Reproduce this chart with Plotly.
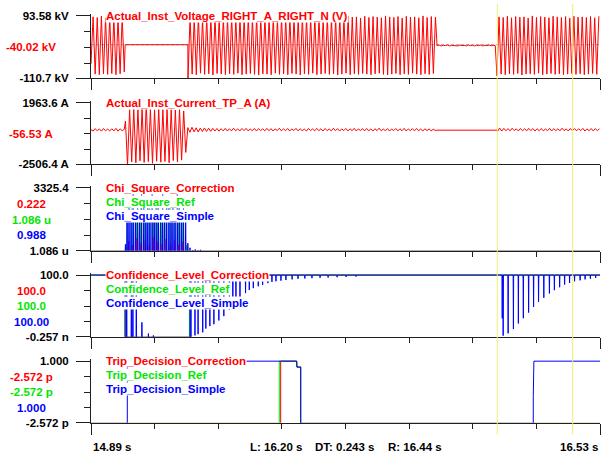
import numpy as np
import plotly.graph_objects as go

W, H = 602, 464
RED, GREEN, BLUE = "#FF0000", "#00E600", "#0000FF"
INK = "#000000"
AXIS = "#202020"
CURSOR_COLOR = "#EEEE77"
FONT = "Liberation Sans, Arial, sans-serif"
FS = 11.5

# ---- time axis -------------------------------------------------------------
T_START, T_END = 14.89, 16.53
N_DIV = 8
CURSOR_L, CURSOR_R = 16.199, 16.442
TIME_LABELS = ["14.89 s", "16.53 s"]
CURSOR_TEXT = ["L: 16.20 s", "DT: 0.243 s", "R: 16.44 s"]

# ---- per-panel scales and labels ------------------------------------------
PANEL_MIN = [-110.7, -2506.4, 1.086e-6, -0.257e-9, -2.572e-12]
PANEL_MAX = [93.58, 1963.6, 3325.4, 100.0, 1.000]
MAX_TEXT = ["93.58 kV", "1963.6 A", "3325.4", "100.0", "1.000"]
MIN_TEXT = ["-110.7 kV", "-2506.4 A", "1.086 u", "-0.257 n", "-2.572 p"]

SERIES_NAMES = [
    ["Actual_Inst_Voltage_RIGHT_A_RIGHT_N (V)"],
    ["Actual_Inst_Current_TP_A (A)"],
    ["Chi_Square_Correction", "Chi_Square_Ref", "Chi_Square_Simple"],
    ["Confidence_Level_Correction", "Confidence_Level_Ref", "Confidence_Level_Simple"],
    ["Trip_Decision_Correction", "Trip_Decision_Ref", "Trip_Decision_Simple"],
]
CURSOR_VALUES = [
    ["-40.02 kV"],
    ["-56.53 A"],
    ["0.222", "1.086 u", "0.988"],
    ["100.0", "100.0", "100.00"],
    ["-2.572 p", "-2.572 p", "1.000"],
]

# ---- sampled waveforms: successive extremes, EXT_STEP seconds apart --------
EXT_STEP = 0.0067

# voltage, kV
VOLT_T0 = [14.890, 15.2025, 16.005, 16.198]
VOLT_A = [-62, 90, -95, 88, -97, 92, -94, 87, -96, 91, -93, 89, -97, 86, -94, 90, -88]
VOLT_B = [
    -110.7, 91, -95, 88, -97, 93, -92, 86, -96, 90, -94, 89, -98, 92, -93, 87, -95, 91, -97, 88,
    -94, 93.58, -96, 86, -92, 90, -97, 89, -95, 92, -93, 88, -96, 91, -98, 87, -94, 93, -95, 89,
    -97, 90, -92, 86, -96, 92, -94, 88, -97, 91, -93, 89, -95, 87, -98, 93, -94, 90, -96, 88,
    -92, 91, -97, 89, -95, 86, -93, 92, -96, 90, -94, 88, -98, 91, -95, 87, -92, 93, -97, 89,
    -94, 90, -96, 86, -93, 92, -95, 88, -97, 91, -94, 89, -92, 87, -96, 93, -98, 90, -95, 88,
    -93, 91, -97, 86, -94, 92, -96, 89, -92, 90, -95, 87, -97, 93, -94, 88, -96, 91, -93, 89,
]
VOLT_C = [-3, -1, -4, -2, -3, -1, -4, -2, -3, -2, -4, -1, -3, -2, -4, -1, -3, -2, -4, -2,
          -3, -1, -4, -2, -3, -1, -3, -2, -3]
VOLT_D = [
    -101, 90, -95, 88, -97, 92, -94, 87, -96, 91, -93, 89, -98, 90, -95, 86, -94, 93, -96, 88,
    -92, 91, -97, 89, -95, 87, -93, 92, -96, 90, -94, 88, -97, 91, -95, 86, -93, 92, -96, 89,
    -94, 90, -97, 88, -95, 91, -93, 87, -96, 92,
]
VOLT_ZERO = [(15.000, 15.202)]

# current, A
CURR_T0 = [14.890, 15.001, 15.202, 16.200]
CURR_A = [30, -60, 110, -50, 90, -70, 120, -40, 80, -60, 100, -50, 130, -70, 90, -40, 60]
CURR_FAULT = [650, -2506.4, 1480, -2280, 1520, -2350, 1460, -2200, 1540, -2320,
              1963.6, -2260, 1500, -2380, 1470, -2230, 1530, -2300, 1490, -2250,
              1510, -2340, 1480, -2180, 1450, -2290, 1500, -2150, 1380, -1600]
CURR_B = [
    180, -150, 210, -120, 170, -130, 150, -100, 160, -90, 140, -80, 130, -60, 120, -70, 110, -50, 130, -60,
    100, -50, 140, -40, 90, -60, 120, -30, 130, -50, 80, -40, 120, -60, 110, -30, 90, -50, 130, -40,
    110, -60, 90, -30, 140, -50, 100, -40, 120, -60, 90, -30, 130, -50, 100, -40, 80, -60, 120, -30,
    90, -50, 130, -40, 100, -60, 120, -30, 80, -50, 140, -40, 110, -60, 90, -30, 120, -50, 100, -40,
    130, -60, 90, -30, 110, -50, 120, -40, 90, -60, 100, -30, 140, -50, 80, -40, 110, -60, 90, -30,
    120, -50, 100, -40, 130, -60, 90, -30, 110, -50, 120, -40, 80, -60, 100, -30, 90, -50, 70, -20,
]
CURR_C = [
    -80, 150, -60, 130, -40, 110, -50, 140, -30, 100, -60, 120, -40, 90, -50, 130, -30, 110, -60, 100,
    -40, 120, -50, 90, -30, 130, -60, 110, -40, 100, -50, 140, -30, 90, -60, 120, -40, 110, -50, 100,
    -30, 130, -60, 90, -40, 120, -50, 110, -30, 100,
]
CURR_ZERO = [(16.005, 16.198)]

# ---- chi-square bursts ------------------------------------------------------
CHI_SIMPLE_T = [15.001, 15.006, 15.0125, 15.019, 15.026, 15.033, 15.040, 15.046, 15.053, 15.060,
                15.067, 15.073, 15.080, 15.087, 15.094, 15.100, 15.107, 15.114, 15.121, 15.127,
                15.134, 15.141, 15.148, 15.154, 15.161, 15.168, 15.175, 15.181, 15.188, 15.195,
                15.202, 15.209, 15.218, 15.226, 15.235, 15.243]
CHI_SIMPLE_V = [360, 1700, 2900, 1900, 3325.4, 2100, 2600, 1800, 3100, 2400,
                1950, 2800, 2200, 3000, 1750, 2500, 2700, 2050, 3200, 1850,
                2450, 2900, 2000, 2650, 1900, 3050, 2300, 1700, 2600, 1600,
                420, 180, 60, 90, 40, 70]
CHI_REF_T = [15.002, 15.008, 15.022, 15.036, 15.050, 15.064, 15.078, 15.091,
             15.105, 15.118, 15.132, 15.145, 15.159, 15.172, 15.186, 15.198]
CHI_REF_V = [250, 1500, 2300, 1700, 2700, 1600, 2500, 1900,
             2850, 1700, 2200, 2600, 1800, 2400, 1750, 300]
CHI_CORR_T = [15.011, 15.024, 15.038, 15.051, 15.065, 15.078, 15.092,
              15.105, 15.119, 15.132, 15.146, 15.159, 15.173, 15.186]
CHI_CORR_V = [520, 300, 680, 410, 560, 350, 720, 460, 380, 640, 430, 590, 330, 480]

# ---- confidence level ---------------------------------------------------------
CONF_LEVEL_T = [14.890, 15.000, 15.000, 15.209, 15.209, 16.530]
CONF_LEVEL_V = [100, 100, 0, 0, 100, 100]
CONF_REF_LEVEL_T = [14.890, 15.000, 15.000, 15.207, 15.207, 16.530]
CONF_SIMPLE_T = [15.005, 15.020, 15.025, 15.036, 15.054, 15.075, 15.091,
                 15.212, 15.225, 15.235, 15.250, 15.260, 15.273, 15.286, 15.302, 15.318, 15.336,
                 15.347, 15.357, 15.370, 15.388, 15.400, 15.413, 15.429, 15.443, 15.460, 15.473,
                 15.486, 15.502, 15.518, 15.538, 15.557, 15.579, 15.602, 15.628, 15.654, 15.683,
                 15.712, 15.744,
                 16.215, 16.218, 16.234, 16.251, 16.267, 16.283, 16.300, 16.316, 16.332, 16.349,
                 16.367, 16.383, 16.400, 16.416, 16.432, 16.448, 16.466, 16.482, 16.499, 16.516]
CONF_SIMPLE_V = [100, 100, 100, 100, 24, 6, 3,
                 0, 3, 5, 8, 14, 18, 21, 27, 34, 44,
                 52, 58, 63, 71, 76, 79, 82, 84, 87, 89,
                 90, 91, 92, 93, 94, 94.5, 95, 95.5, 96, 96.5,
                 97, 97.5,
                 30.6, 2.6, 6.3, 13.2, 22.2, 30.6, 39.7, 48.7, 57.1, 63.5,
                 70.4, 75.7, 80.4, 84.7, 87.3, 90.0, 91.5, 93.0, 94.1, 95.2]
CONF_REF_T = [16.283, 16.332, 16.383]
CONF_REF_V = [95, 96, 97]

# ---- trip decisions (step traces) -------------------------------------------
TRIP_SIMPLE_T = [14.890, 15.007, 15.007, 15.5527, 15.5535, 15.5656, 15.5656, 16.315, 16.315, 16.317, 16.530]
TRIP_SIMPLE_V = [0, 0, 1, 1, 0.905, 0.905, 0, 0, 0.43, 1, 1]
TRIP_REF_T = [14.890, 15.4966, 15.4966, 15.5527, 15.5535, 15.5656, 15.5656, 16.530]
TRIP_REF_V = [0, 0, 1, 1, 0.905, 0.905, 0, 0]
TRIP_CORR_T = [14.890, 15.5011, 15.5011, 15.5527, 15.5535, 15.5656, 15.5656, 16.530]
TRIP_CORR_V = [0, 0, 1, 1, 0.905, 0.905, 0, 0]

# ---- page geometry (pixels) -------------------------------------------------
AXIS_X, RIGHT_X = 91, 600
PANEL_TOP = [12, 101, 188, 277, 365]
PANEL_BOTTOM = [76, 164, 252, 340, 428]
NAME_X, NAME_STEP = 105, 14.2
VALUE_X = 31
TOP_PAD = 2       # headroom above the top tick
FLOOR_SINK = 0.6  # keeps traces sitting on the floor underneath the axis line


def pxx(p):
    return p / W


def pxy(p):
    return 1 - p / H


def waveform(starts, pieces, flats):
    t, v = [], []
    for t0, vals in zip(starts, pieces):
        t.extend(t0 + EXT_STEP * np.arange(len(vals)))
        v.extend(vals)
    for a, b in flats:
        t.extend([a, b])
        v.extend([0.0, 0.0])
    t = np.asarray(t, float)
    v = np.asarray(v, float)
    k = np.argsort(t, kind="stable")
    return t[k], v[k]


def spiky(level_t, level_v, spike_t, spike_v, half):
    """Step level polyline with a narrow excursion at every spike time."""
    level_t = np.asarray(level_t, float)
    level_v = np.asarray(level_v, float)
    t, v = list(level_t), list(level_v)
    for ts, vs in zip(spike_t, spike_v):
        lv = level_v[np.searchsorted(level_t, ts, side="right") - 1]
        t += [ts - half, ts, ts + half]
        v += [lv, vs, lv]
    t = np.asarray(t)
    v = np.asarray(v, float)
    k = np.argsort(t, kind="stable")
    return t[k], v[k]


fig = go.Figure()


def add(panel, t, v, color, width=1.0):
    sfx = "" if panel == 1 else str(panel)
    fig.add_trace(go.Scatter(x=t, y=v, mode="lines", xaxis="x" + sfx, yaxis="y" + sfx,
                             line=dict(color=color, width=width), hoverinfo="skip"))


vt, vv = waveform(VOLT_T0, [VOLT_A, VOLT_B, VOLT_C, VOLT_D], VOLT_ZERO)
add(1, vt, vv, RED)
ct, cv = waveform(CURR_T0, [CURR_A, CURR_FAULT, CURR_B, CURR_C], CURR_ZERO)
add(2, ct, cv, RED)

flat_t, flat_v = [T_START, T_END], [0, 0]
add(3, *spiky(flat_t, flat_v, CHI_REF_T, CHI_REF_V, 0.0010), GREEN)
add(3, *spiky(flat_t, flat_v, CHI_CORR_T, CHI_CORR_V, 0.0010), RED)
add(3, *spiky(flat_t, flat_v, CHI_SIMPLE_T, CHI_SIMPLE_V, 0.0010), BLUE)

add(4, CONF_LEVEL_T, CONF_LEVEL_V, RED)
add(4, *spiky(CONF_REF_LEVEL_T, CONF_LEVEL_V, CONF_REF_T, CONF_REF_V, 0.0008), GREEN)
add(4, *spiky(CONF_LEVEL_T, CONF_LEVEL_V, CONF_SIMPLE_T, CONF_SIMPLE_V, 0.0008), BLUE)

add(5, TRIP_CORR_T, TRIP_CORR_V, RED)
add(5, TRIP_REF_T, TRIP_REF_V, GREEN)
add(5, TRIP_SIMPLE_T, TRIP_SIMPLE_V, BLUE)

div_ticks = [T_START + (T_END - T_START) * k / N_DIV for k in range(1, N_DIV)]
bold = dict(family=FONT, size=FS, color=INK, weight="bold")

layout = dict(width=W, height=H, margin=dict(l=0, r=0, t=0, b=0), autosize=False,
              showlegend=False, paper_bgcolor="white", plot_bgcolor="white")
annotations, shapes = [], []

for i in range(5):
    sfx = "" if i == 0 else str(i + 1)
    lo, hi = PANEL_MIN[i], PANEL_MAX[i]
    span_px = PANEL_BOTTOM[i] - PANEL_TOP[i]
    per_px = (hi - lo) / span_px
    top = hi + per_px * TOP_PAD
    floor = lo + per_px * FLOOR_SINK
    mids = [lo + (hi - lo) * k / 4 for k in (3, 2, 1)]
    layout["xaxis" + sfx] = dict(
        domain=[pxx(AXIS_X), pxx(RIGHT_X)], range=[T_START, T_END], anchor="y" + sfx,
        showline=True, linecolor=AXIS, linewidth=1, showgrid=False, zeroline=False,
        ticks="outside", tickvals=[T_START, T_END], ticklen=11, tickcolor=AXIS, tickwidth=1,
        showticklabels=False,
        minor=dict(tickvals=div_ticks, ticks="outside", ticklen=5, tickcolor=AXIS, tickwidth=1),
        **({} if i == 0 else dict(matches="x")))
    layout["yaxis" + sfx] = dict(
        domain=[pxy(PANEL_BOTTOM[i]), pxy(PANEL_TOP[i] - TOP_PAD)], range=[floor, top],
        anchor="x" + sfx, showline=True, linecolor=AXIS, linewidth=1, showgrid=False,
        zeroline=False, ticks="outside", tickvals=[floor, hi], ticktext=[MIN_TEXT[i], MAX_TEXT[i]],
        ticklen=14, tickcolor=AXIS, tickwidth=1, tickfont=bold, ticklabelstandoff=5,
        minor=dict(tickvals=mids, ticks="outside", ticklen=6, tickcolor=AXIS, tickwidth=1))

    # series names, stacked under the top of each panel
    colors = [RED] if len(SERIES_NAMES[i]) == 1 else [RED, GREEN, BLUE]
    for j, (name, col) in enumerate(zip(SERIES_NAMES[i], colors)):
        annotations.append(dict(
            text=name, xref="paper", yref="paper", x=pxx(NAME_X),
            y=pxy(PANEL_TOP[i] + j * NAME_STEP), xanchor="left", yanchor="middle",
            showarrow=False, bgcolor="white", borderpad=0,
            font=dict(family=FONT, size=FS, color=col, weight="bold")))

    # values at the cursor, placed on the inner ticks
    vals = CURSOR_VALUES[i]
    levels = [mids[1]] if len(vals) == 1 else mids
    for text, col, lev in zip(vals, colors, levels):
        annotations.append(dict(
            text=text, xref="paper", yref="y" + sfx, x=pxx(VALUE_X), y=lev,
            xanchor="center", yanchor="middle", showarrow=False,
            font=dict(family=FONT, size=FS, color=col, weight="bold")))

# dashed zero reference in the voltage panel
shapes.append(dict(type="line", xref="x domain", yref="y", x0=0, x1=1, y0=0, y1=0,
                   line=dict(color="#A8A8A8", width=1, dash="3px,2px"), layer="below"))

# measurement cursors
for tc in (CURSOR_L, CURSOR_R):
    shapes.append(dict(type="line", xref="x", yref="paper", x0=tc, x1=tc,
                       y0=pxy(440), y1=1, line=dict(color=CURSOR_COLOR, width=1)))

# time read-outs along the bottom
LABEL_Y = pxy(453)
annotations.append(dict(text=TIME_LABELS[0], xref="x5", yref="paper", x=T_START, y=LABEL_Y,
                        xanchor="left", yanchor="middle", showarrow=False, font=bold))
annotations.append(dict(text=TIME_LABELS[1], xref="x5", yref="paper", x=T_END, y=LABEL_Y,
                        xanchor="right", yanchor="middle", showarrow=False, font=bold))
for text, xp in zip(CURSOR_TEXT, (248, 313, 386)):
    annotations.append(dict(text=text, xref="paper", yref="paper", x=pxx(xp), y=LABEL_Y,
                            xanchor="left", yanchor="middle", showarrow=False, font=bold))

layout["annotations"] = annotations
layout["shapes"] = shapes
fig.update_layout(**layout)
fig.write_html("out.html")
